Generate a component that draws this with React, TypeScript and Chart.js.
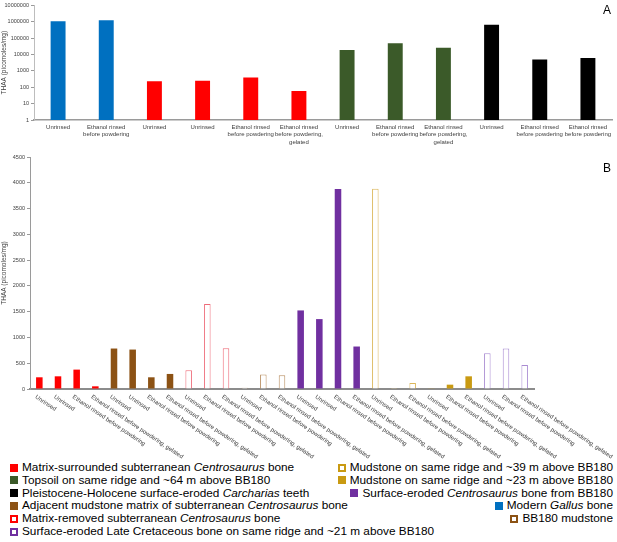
import React, { useRef, useEffect } from 'react';
import { Chart, registerables } from 'chart.js';

Chart.register(...registerables);

const FONT = '"Liberation Sans", Arial, sans-serif';

// ---- panel A (log scale) ----
const panelALabels = [
  'Unrinsed',
  ['Ethanol rinsed', 'before powdering'],
  'Unrinsed',
  'Unrinsed',
  ['Ethanol rinsed', 'before powdering'],
  ['Ethanol rinsed', 'before powdering,', 'gelated'],
  'Unrinsed',
  ['Ethanol rinsed', 'before powdering'],
  ['Ethanol rinsed', 'before powdering,', 'gelated'],
  'Unrinsed',
  ['Ethanol rinsed', 'before powdering'],
  ['Ethanol rinsed', 'before powdering'],
];
const panelAValues = [1080000, 1240000, 234, 250, 390, 59, 18600, 49000, 25400, 650000, 5000, 6000];
const panelAGroups = [
  'gallus', 'gallus',
  'matrixSurrounded', 'matrixSurrounded', 'matrixSurrounded', 'matrixSurrounded',
  'topsoil', 'topsoil', 'topsoil',
  'carcharias', 'carcharias', 'carcharias',
];
const panelATicks = [1, 10, 100, 1000, 10000, 100000, 1000000, 10000000];

// ---- panel B (linear scale) ----
const UNR = 'Unrinsed';
const ETH = 'Ethanol rinsed before powdering';
const GEL = 'Ethanol rinsed before powdering, gelated';
const panelBLabels = [
  UNR, UNR, ETH, GEL,
  UNR, UNR, ETH, GEL,
  UNR, ETH, GEL,
  UNR, ETH, GEL,
  UNR, UNR, ETH, GEL,
  UNR, ETH, GEL,
  UNR, ETH, GEL,
  UNR, ETH, GEL,
];
const panelBValues = [
  227, 246, 376, 52,
  785, 765, 227, 292,
  363, 1647, 791,
  26, 279, 266,
  1524, 1356, 3879, 824,
  3885, 18, 117,
  12, 84, 246,
  694, 785, 467,
];
const panelBGroups = [
  'matrixSurrounded', 'matrixSurrounded', 'matrixSurrounded', 'matrixSurrounded',
  'adjacent', 'adjacent', 'adjacent', 'adjacent',
  'matrixRemoved', 'matrixRemoved', 'matrixRemoved',
  'bb180Mudstone', 'bb180Mudstone', 'bb180Mudstone',
  'surfaceBB180', 'surfaceBB180', 'surfaceBB180', 'surfaceBB180',
  'mudstone39', 'mudstone39', 'mudstone39',
  'mudstone23', 'mudstone23', 'mudstone23',
  'lateCretaceous', 'lateCretaceous', 'lateCretaceous',
];
const panelBTicks = [0, 500, 1000, 1500, 2000, 2500, 3000, 3500, 4000, 4500];

const groupStyles: Record<string, { color: string; bar?: string; outline: boolean }> = {
  matrixSurrounded: { color: '#ff0000', outline: false },
  topsoil: { color: '#3b5a29', outline: false },
  carcharias: { color: '#000000', outline: false },
  adjacent: { color: '#8c5214', outline: false },
  matrixRemoved: { color: '#ff0000', bar: '#ee6a78', outline: true },
  lateCretaceous: { color: '#7030a0', bar: '#a98bd2', outline: true },
  mudstone39: { color: '#c99a12', bar: '#dcb75a', outline: true },
  mudstone23: { color: '#c99a12', outline: false },
  surfaceBB180: { color: '#7030a0', outline: false },
  gallus: { color: '#0070c0', outline: false },
  bb180Mudstone: { color: '#8c5214', bar: '#b98f62', outline: true },
};

const fillOf = (g: string) => (groupStyles[g].outline ? '#ffffff' : groupStyles[g].color);
const edgeOf = (g: string) => groupStyles[g].bar || groupStyles[g].color;

// rotated category labels, starting at the tick and running down-right
const slantedLabels = {
  id: 'slantedLabels',
  afterDraw(chart: any) {
    const { ctx, chartArea, scales } = chart;
    ctx.save();
    ctx.font = `6px ${FONT}`;
    ctx.fillStyle = '#404040';
    ctx.textAlign = 'left';
    ctx.textBaseline = 'top';
    panelBLabels.forEach((label, i) => {
      const x = scales.x.getPixelForValue(i);
      ctx.save();
      ctx.translate(x - 2, chartArea.bottom + 5);
      ctx.rotate(0.59);
      ctx.fillText(label, 0, 0);
      ctx.restore();
    });
    ctx.restore();
  },
};

const PanelA: React.FC = () => {
  const canvasRef = useRef<HTMLCanvasElement>(null);

  useEffect(() => {
    if (!canvasRef.current) return;
    const chart = new Chart(canvasRef.current, {
      type: 'bar',
      data: {
        labels: panelALabels,
        datasets: [
          {
            data: panelAValues,
            backgroundColor: panelAGroups.map(fillOf),
            borderWidth: 0,
            barPercentage: 0.31,
            categoryPercentage: 1,
          },
        ],
      },
      options: {
        animation: false,
        responsive: true,
        maintainAspectRatio: false,
        layout: { padding: { top: 4, right: 5, left: 0, bottom: 0 } },
        plugins: { legend: { display: false }, tooltip: { enabled: false } },
        scales: {
          x: {
            grid: { display: false, drawTicks: false },
            border: { color: '#9a9a9a', width: 1.5 },
            ticks: {
              font: { family: FONT, size: 6 },
              color: '#404040',
              padding: 4,
              maxRotation: 0,
              autoSkip: false,
            },
            afterFit: (s: any) => {
              s.height = 25;
            },
          },
          y: {
            type: 'logarithmic',
            min: 1,
            max: 10000000,
            afterBuildTicks: (s: any) => {
              s.ticks = panelATicks.map((v) => ({ value: v }));
            },
            grid: { drawOnChartArea: false, drawTicks: true, tickLength: 3, color: '#9a9a9a' },
            border: { color: '#bdbdbd' },
            ticks: {
              callback: (v: any) => String(v),
              font: { family: FONT, size: 5.5 },
              color: '#404040',
              padding: 2,
            },
            title: {
              display: true,
              text: 'THAA (picomoles/mg)',
              font: { family: FONT, size: 6.5 },
              color: '#404040',
              padding: { top: 0, bottom: 1 },
            },
            afterFit: (s: any) => {
              s.width = 34;
            },
          },
        },
      },
    });
    return () => chart.destroy();
  }, []);

  return (
    <div style={{ position: 'absolute', left: 0, top: 0, width: 617, height: 145 }}>
      <canvas ref={canvasRef} />
    </div>
  );
};

const PanelB: React.FC = () => {
  const canvasRef = useRef<HTMLCanvasElement>(null);

  useEffect(() => {
    if (!canvasRef.current) return;
    const chart = new Chart(canvasRef.current, {
      type: 'bar',
      data: {
        labels: panelBLabels,
        datasets: [
          {
            data: panelBValues,
            backgroundColor: panelBGroups.map(fillOf),
            borderColor: panelBGroups.map(edgeOf),
            borderWidth: panelBGroups.map((g) => (groupStyles[g].outline ? 1 : 0)),
            barPercentage: 0.35,
            categoryPercentage: 1,
          },
        ],
      },
      options: {
        animation: false,
        responsive: true,
        maintainAspectRatio: false,
        layout: { padding: { top: 12, right: 83, left: 0, bottom: 0 } },
        plugins: { legend: { display: false }, tooltip: { enabled: false } },
        scales: {
          x: {
            grid: { display: false, drawTicks: false },
            border: { color: '#8c8c8c', width: 2 },
            ticks: { display: false },
            afterFit: (s: any) => {
              s.height = 71;
            },
          },
          y: {
            min: 0,
            max: 4500,
            afterBuildTicks: (s: any) => {
              s.ticks = panelBTicks.map((v) => ({ value: v }));
            },
            grid: { drawOnChartArea: false, drawTicks: true, tickLength: 3, color: '#9a9a9a' },
            border: { color: '#9a9a9a' },
            ticks: {
              callback: (v: any) => String(v),
              font: { family: FONT, size: 5.5 },
              color: '#404040',
              padding: 2,
            },
            title: {
              display: true,
              text: 'THAA (picomoles/mg)',
              font: { family: FONT, size: 6.5 },
              color: '#404040',
              padding: { top: 0, bottom: 1 },
            },
            afterFit: (s: any) => {
              s.width = 30;
            },
          },
        },
      },
      plugins: [slantedLabels],
    });
    return () => chart.destroy();
  }, []);

  return (
    <div style={{ position: 'absolute', left: 0, top: 145, width: 617, height: 315 }}>
      <canvas ref={canvasRef} />
    </div>
  );
};

const Swatch: React.FC<{ group: string }> = ({ group }) => {
  const s = groupStyles[group];
  return (
    <span
      style={{
        display: 'inline-block',
        boxSizing: 'border-box',
        width: 8,
        height: 8,
        marginRight: 4,
        background: s.outline ? '#ffffff' : s.color,
        border: s.outline ? `2px solid ${s.color}` : 'none',
      }}
    />
  );
};

const LegendRow: React.FC<{ group: string; row: number; right?: boolean; children: React.ReactNode }> = ({
  group,
  row,
  right,
  children,
}) => (
  <div
    style={{
      position: 'absolute',
      top: 461 + row * 12.8,
      left: right ? undefined : 10,
      right: right ? 4 : undefined,
      height: 13,
      display: 'flex',
      alignItems: 'center',
      whiteSpace: 'nowrap',
      fontSize: 11.8,
      lineHeight: '13px',
      color: '#000',
    }}
  >
    <Swatch group={group} />
    <span>{children}</span>
  </div>
);

const App: React.FC = () => {
  return (
    <div
      style={{
        position: 'absolute',
        left: 0,
        top: 0,
        width: 617,
        height: 542,
        background: '#ffffff',
        fontFamily: FONT,
        overflow: 'hidden',
      }}
    >
      <PanelA />
      <PanelB />
      <div style={{ position: 'absolute', left: 603, top: 3, fontSize: 12 }}>A</div>
      <div style={{ position: 'absolute', left: 603, top: 161, fontSize: 12 }}>B</div>

      <LegendRow group="matrixSurrounded" row={0}>
        Matrix-surrounded subterranean <i>Centrosaurus</i> bone
      </LegendRow>
      <LegendRow group="topsoil" row={1}>
        Topsoil on same ridge and ~64 m above BB180
      </LegendRow>
      <LegendRow group="carcharias" row={2}>
        Pleistocene-Holocene surface-eroded <i>Carcharias</i> teeth
      </LegendRow>
      <LegendRow group="adjacent" row={3}>
        Adjacent mudstone matrix of subterranean <i>Centrosaurus</i> bone
      </LegendRow>
      <LegendRow group="matrixRemoved" row={4}>
        Matrix-removed subterranean <i>Centrosaurus</i> bone
      </LegendRow>
      <LegendRow group="lateCretaceous" row={5}>
        Surface-eroded Late Cretaceous bone on same ridge and ~21 m above BB180
      </LegendRow>

      <LegendRow group="mudstone39" row={0} right>
        Mudstone on same ridge and ~39 m above BB180
      </LegendRow>
      <LegendRow group="mudstone23" row={1} right>
        Mudstone on same ridge and ~23 m above BB180
      </LegendRow>
      <LegendRow group="surfaceBB180" row={2} right>
        Surface-eroded <i>Centrosaurus</i> bone from BB180
      </LegendRow>
      <LegendRow group="gallus" row={3} right>
        Modern <i>Gallus</i> bone
      </LegendRow>
      <LegendRow group="bb180Mudstone" row={4} right>
        BB180 mudstone
      </LegendRow>
    </div>
  );
};

export default App;
